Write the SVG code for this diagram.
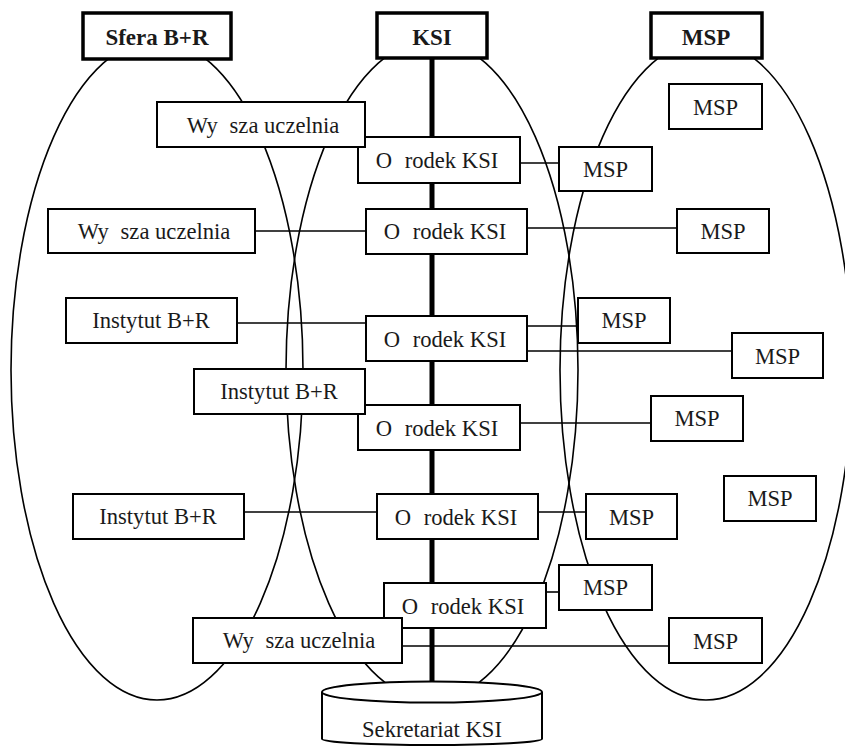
<svg xmlns="http://www.w3.org/2000/svg" width="845" height="746" viewBox="0 0 845 746">
<style>
.bg{fill:#fff}
.ell{fill:none;stroke:#000;stroke-width:1.6}
.box{fill:#fff;stroke:#000;stroke-width:2}
.hdr{fill:#fff;stroke:#000;stroke-width:3.5}
.ln{stroke:#000;stroke-width:1.6;fill:none}
.bus{stroke:#000;stroke-width:5;fill:none}
.t{font-size:22.6px;fill:#1a1a1a;text-anchor:middle}
.h{font-size:23px;font-weight:bold;fill:#1a1a1a;text-anchor:middle}
</style>
<rect class="bg" x="0" y="0" width="845" height="746"/>
<g id="spheres">
<ellipse class="ell" cx="157" cy="370" rx="146" ry="330"/>
<ellipse class="ell" cx="432" cy="370" rx="146" ry="330"/>
<ellipse class="ell" cx="706" cy="370" rx="146" ry="330"/>
</g>
<g id="connectors">
<line class="bus" x1="432" y1="58" x2="432" y2="690"/>
<line class="ln" x1="255" y1="231" x2="366" y2="231"/>
<line class="ln" x1="520" y1="163" x2="559" y2="163"/>
<line class="ln" x1="527" y1="228" x2="677" y2="228"/>
<line class="ln" x1="237" y1="323" x2="366" y2="323"/>
<line class="ln" x1="527" y1="326" x2="578" y2="326"/>
<line class="ln" x1="527" y1="351" x2="732" y2="351"/>
<line class="ln" x1="520" y1="423" x2="651" y2="423"/>
<line class="ln" x1="244" y1="512" x2="377" y2="512"/>
<line class="ln" x1="538" y1="512" x2="586" y2="512"/>
<line class="ln" x1="546" y1="592" x2="559" y2="592"/>
<line class="ln" x1="402" y1="646" x2="669" y2="646"/>
</g>
<g font-family="'Liberation Serif', 'Times New Roman', Times, serif">
<g id="osrodek1"><rect class="box" x="358" y="137" width="162" height="46"/><text class="t" x="437" y="168">O<tspan dx="7"> rodek KSI</tspan></text></g>
<g id="uczelnia1"><rect class="box" x="157" y="102" width="208" height="45"/><text class="t" x="263" y="133">Wy<tspan dx="6"> sza uczelnia</tspan></text></g>
<g id="uczelnia2"><rect class="box" x="48" y="209" width="207" height="44"/><text class="t" x="154" y="239">Wy<tspan dx="6"> sza uczelnia</tspan></text></g>
<g id="osrodek2"><rect class="box" x="366" y="209" width="161" height="45"/><text class="t" x="445" y="239">O<tspan dx="7"> rodek KSI</tspan></text></g>
<g id="instytut1"><rect class="box" x="66" y="298" width="171" height="45"/><text class="t" x="151" y="328">Instytut B+R</text></g>
<g id="osrodek3"><rect class="box" x="366" y="316" width="161" height="45"/><text class="t" x="445" y="347">O<tspan dx="7"> rodek KSI</tspan></text></g>
<g id="osrodek4"><rect class="box" x="358" y="405" width="162" height="45"/><text class="t" x="437" y="436">O<tspan dx="7"> rodek KSI</tspan></text></g>
<g id="instytut2"><rect class="box" x="194" y="369" width="171" height="45"/><text class="t" x="279" y="399">Instytut B+R</text></g>
<g id="instytut3"><rect class="box" x="73" y="494" width="171" height="45"/><text class="t" x="158" y="524">Instytut B+R</text></g>
<g id="osrodek5"><rect class="box" x="377" y="494" width="161" height="45"/><text class="t" x="456" y="525">O<tspan dx="7"> rodek KSI</tspan></text></g>
<g id="osrodek6"><rect class="box" x="384" y="583" width="162" height="45"/><text class="t" x="463" y="614">O<tspan dx="7"> rodek KSI</tspan></text></g>
<g id="uczelnia3"><rect class="box" x="193" y="618" width="209" height="45"/><text class="t" x="299" y="648">Wy<tspan dx="6"> sza uczelnia</tspan></text></g>
<g id="msp1"><rect class="box" x="669" y="84" width="93" height="45"/><text class="t" x="715.5" y="115">MSP</text></g>
<g id="msp2"><rect class="box" x="559" y="147" width="93" height="44"/><text class="t" x="605.5" y="177">MSP</text></g>
<g id="msp3"><rect class="box" x="677" y="209" width="92" height="44"/><text class="t" x="723" y="239">MSP</text></g>
<g id="msp4"><rect class="box" x="578" y="298" width="92" height="45"/><text class="t" x="624" y="328">MSP</text></g>
<g id="msp5"><rect class="box" x="732" y="333" width="91" height="45"/><text class="t" x="777.5" y="364">MSP</text></g>
<g id="msp6"><rect class="box" x="651" y="396" width="92" height="45"/><text class="t" x="697" y="426">MSP</text></g>
<g id="msp7"><rect class="box" x="724" y="476" width="92" height="45"/><text class="t" x="770" y="506">MSP</text></g>
<g id="msp8"><rect class="box" x="586" y="494" width="91" height="45"/><text class="t" x="631.5" y="525">MSP</text></g>
<g id="msp9"><rect class="box" x="559" y="565" width="93" height="45"/><text class="t" x="605.5" y="595">MSP</text></g>
<g id="msp10"><rect class="box" x="669" y="618" width="93" height="45"/><text class="t" x="715.5" y="649">MSP</text></g>
<g id="hdr-sfera"><rect class="hdr" x="83" y="13" width="148" height="46"/><text class="h" x="157" y="45">Sfera B+R</text></g>
<g id="hdr-ksi"><rect class="hdr" x="377" y="13" width="110" height="45"/><text class="h" x="432" y="45">KSI</text></g>
<g id="hdr-msp"><rect class="hdr" x="651" y="13" width="111" height="45"/><text class="h" x="706" y="45">MSP</text></g>
<g id="sekretariat">
<path class="box" d="M322,692 A110,10.5 0 0,1 542,692 L542,739 A110,6 0 0,1 322,739 Z"/>
<path class="ln" style="stroke-width:2" d="M322,692 A110,10.5 0 0,0 542,692"/>
<text class="t" x="432" y="737">Sekretariat KSI</text>
</g>
</g>
</svg>
